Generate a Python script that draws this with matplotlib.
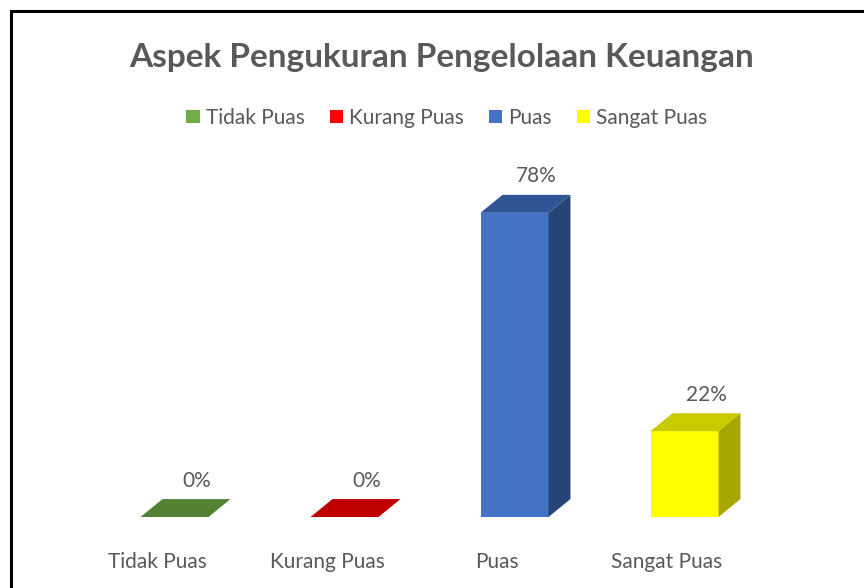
import matplotlib.pyplot as plt
from matplotlib.patches import Polygon, Patch
from matplotlib.lines import Line2D

categories = ['Tidak Puas', 'Kurang Puas', 'Puas', 'Sangat Puas']
values = [0, 0, 78, 22]
value_labels = ['0%', '0%', '78%', '22%']
front_colors = ['#70AD47', '#FF0000', '#4472C4', '#FFFF00']
top_colors = ['#548235', '#C00000', '#2F5597', '#CACA00']
side_colors = ['#3F6128', '#900000', '#264478', '#A6A600']

plt.rcParams['font.family'] = ['Lato', 'DejaVu Sans']
text_color = '#595959'

fig = plt.figure(figsize=(8.64, 5.88), dpi=100)
ax = fig.add_axes([55 / 864, 1 - 517 / 588, 714 / 864, 370.5 / 588])
ax.set_xlim(-0.6, 3.6)
ax.set_ylim(0, 95)

# fake 3d column: front face, side face, top face
off, w, dx, dy = 0.103, 0.4, 0.129, 4.6
for i, v in enumerate(values):
    x0 = i + off - w / 2
    x1 = x0 + w
    if v > 0:
        ax.add_patch(Polygon([(x0, 0), (x1, 0), (x1, v), (x0, v)],
                             closed=True, fc=front_colors[i], ec='none'))
        ax.add_patch(Polygon([(x1, 0), (x1 + dx, dy), (x1 + dx, v + dy), (x1, v)],
                             closed=True, fc=side_colors[i], ec='none'))
    ax.add_patch(Polygon([(x0, v), (x1, v), (x1 + dx, v + dy), (x0 + dx, v + dy)],
                         closed=True, fc=top_colors[i], ec='none'))
    ax.annotate(value_labels[i], ((x0 + x1) / 2 + dx, v + dy), xytext=(0, 9),
                textcoords='offset points', ha='center', va='baseline',
                fontsize=15, color=text_color)

ax.set_xticks(range(len(categories)))
ax.set_xticklabels(categories, fontsize=15, color=text_color)
ax.tick_params(axis='x', length=0, pad=25)
ax.set_yticks([])
for s in ax.spines.values():
    s.set_visible(False)

fig.text(442 / 864, 1 - 58 / 588, 'Aspek Pengukuran Pengelolaan Keuangan',
         ha='center', va='center', fontsize=24, fontweight='bold', color=text_color)

handles = [Patch(fc=c, ec='none') for c in front_colors]
fig.legend(handles, categories, loc='center', bbox_to_anchor=(447 / 864, 1 - 118 / 588),
           ncol=4, frameon=False, fontsize=15, handlelength=0.63, handleheight=0.63,
           handletextpad=0.3, columnspacing=1.2, labelcolor=text_color)

# outer frame (only top and left edges visible)
fig.add_artist(Line2D([11 / 864, 11 / 864], [0, 1 - 11 / 588], color='black', lw=2.2))
fig.add_artist(Line2D([11 / 864, 1], [1 - 11 / 588, 1 - 11 / 588], color='black', lw=2.2))

fig.savefig('out.png', dpi=100)
